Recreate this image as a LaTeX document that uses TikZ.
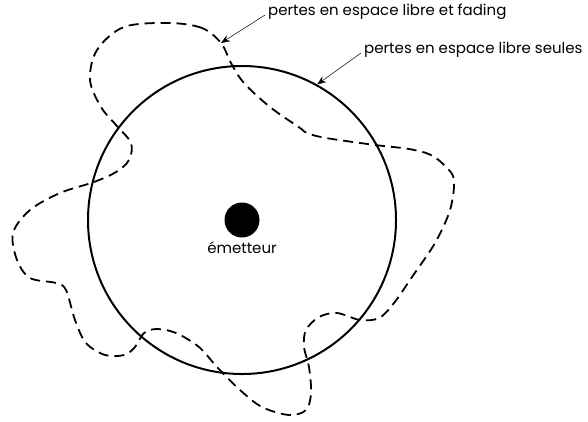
\documentclass[tikz,border=0pt]{standalone}
\usepackage{fontspec}
\setmainfont{Poppins}
\usetikzlibrary{arrows.meta,positioning}
\begin{document}
\begin{tikzpicture}[x=1pt, y=-1pt, font=\fontsize{15}{17}\selectfont,
  fading/.style={line width=1.8pt, dash pattern=on 10pt off 6pt, line join=round},
  pointer/.style={line width=0.5pt, -{Stealth[length=9pt, width=7pt, inset=3pt]}},
  label/.style={anchor=west, inner sep=1pt}]
\useasboundingbox (0,0) rectangle (588,421);
\node[draw, circle, line width=2pt, minimum size=308pt, inner sep=0pt] (libre) at (242,220) {};
\node[circle, fill, minimum size=35pt, inner sep=0pt] (emet) at (242,220) {};
\node[below=3pt of emet, inner sep=1pt] (emetlab) {émetteur};
\draw[fading] plot[smooth cycle, tension=0.55] coordinates {
  (221,43) (202,28) (169,23) (124,27) (97,50) (90,80) (101,107) (116,125)
  (131,143) (129,160) (116,172) (94,182) (60,193) (30,210) (13,233) (17,260)
  (30,278) (56,283) (66,290) (75,320) (86,343) (105,355) (124,355) (135,347)
  (144,333) (157,329) (176,333) (199,347) (217,367) (240,390) (262,407) (289,415)
  (306,410) (311,393) (309,367) (304,347) (306,330) (319,317) (337,313) (360,320)
  (379,318) (394,303) (412,277) (435,243) (450,210) (454,180) (446,167) (431,155)
  (409,149) (375,145) (326,138) (307,133) (300,128) (270,107) (244,83) (231,63)};
\coordinate (fadtip) at (221,43);
\node[label] (fad) at (267,12) {pertes en espace libre et fading};
\node[label] (seul) at (363,50) {pertes en espace libre seules};
\draw[pointer] (fad.west) ++(-2,3) -- (fadtip);
\draw[pointer] (seul.west) ++(-2,3) -- (libre.61);
\end{tikzpicture}
\end{document}
